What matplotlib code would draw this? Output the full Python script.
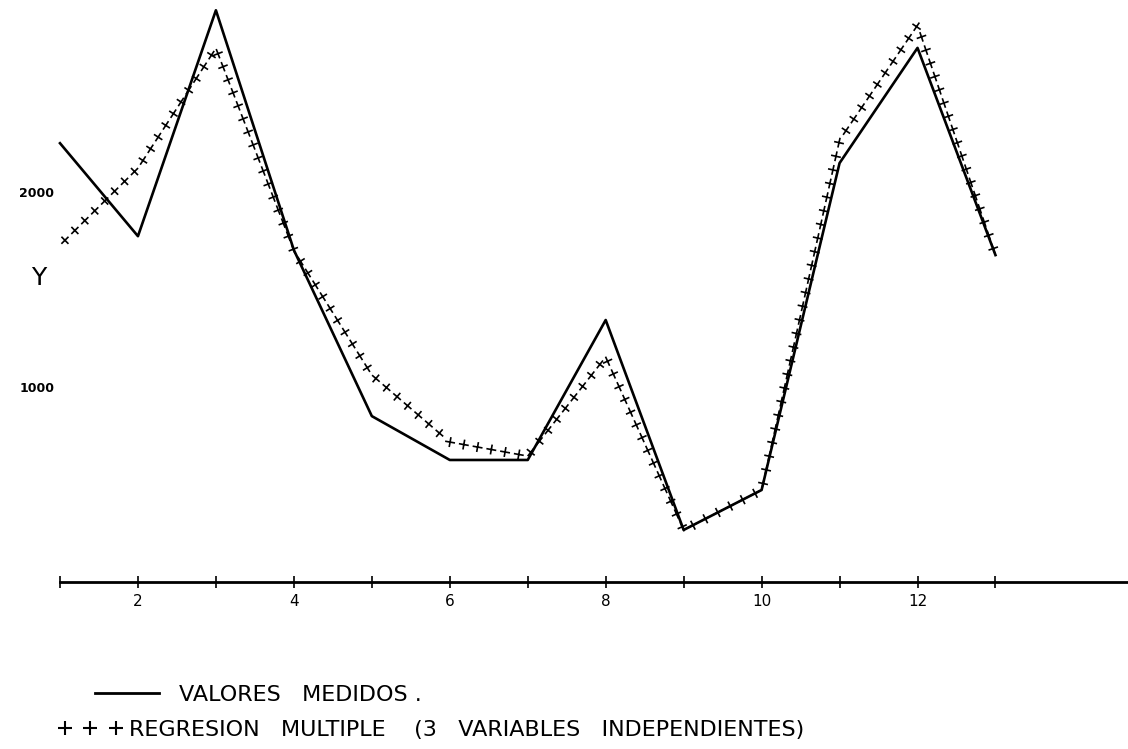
import matplotlib
matplotlib.use("Agg")
import matplotlib.pyplot as plt
from matplotlib.lines import Line2D
from matplotlib import patheffects as pe

# datos
meses = [1, 2, 3, 4, 5, 6, 7, 8, 9, 10, 11, 12, 13]
medidos = [2251, 1774, 2933, 1703, 851, 626, 626, 1344, 267, 472, 2149, 2740, 1677]
regresion = [1728, 2123, 2738, 1700, 1062, 718, 646, 1154, 267, 472, 2267, 2856, 1677]
xticks = [2, 4, 6, 8, 10, 12]
yticks = [1000, 2000]

fig = plt.figure(figsize=(11.28, 7.49), dpi=100)
ax = fig.add_axes([60 / 1128, 167 / 749, 1 - 60 / 1128, 577 / 749])

ax.plot(meses, medidos, color="black", lw=1.9, clip_on=False, zorder=3)

# cruces "+" a lo largo de la curva de regresion
cruz = [pe.TickedStroke(spacing=10, angle=a, length=0.3, linewidth=1.2)
        for a in (0, 90, 180, -90)]
ax.plot(meses, regresion, color="black", lw=1.2, clip_on=False,
        path_effects=cruz, zorder=2)

ax.set_xlim(1, 14.7)
ax.set_ylim(0, 2960)

for s in ("top", "right", "left"):
    ax.spines[s].set_visible(False)
ax.spines["bottom"].set_linewidth(2)

ax.set_xticks(xticks)
ax.set_xticks(meses, minor=True)
ax.tick_params(axis="x", which="both", direction="inout", length=9, width=1.2,
               labelsize=11, pad=4)
ax.set_yticks(yticks)
ax.set_yticklabels([str(v) for v in yticks], fontweight="bold", fontsize=9)
ax.tick_params(axis="y", length=0, pad=4)
ax.set_ylabel("Y", rotation=0, fontsize=18)
ax.yaxis.set_label_coords(-0.02, 1500 / 2960)

h1 = Line2D([], [], color="black", lw=2)
h2 = Line2D([], [], color="black", ls="none", marker="+", ms=10, mew=1.5)
leg1 = ax.legend([h1], ["VALORES   MEDIDOS ."], frameon=False, loc="center left",
                 bbox_to_anchor=(95 / 1128, 1 - 695 / 749),
                 bbox_transform=fig.transFigure, prop={"size": 16},
                 handlelength=2.9, handletextpad=0.9, borderpad=0, borderaxespad=0)
ax.add_artist(leg1)
ax.legend([h2], ["REGRESION   MULTIPLE    (3   VARIABLES   INDEPENDIENTES)"],
          numpoints=3, frameon=False, loc="center left",
          bbox_to_anchor=(58 / 1128, 1 - 730 / 749),
          bbox_transform=fig.transFigure, prop={"size": 16},
          handlelength=2.9, handletextpad=0.3, borderpad=0, borderaxespad=0)

fig.savefig("out.png", dpi=100)
